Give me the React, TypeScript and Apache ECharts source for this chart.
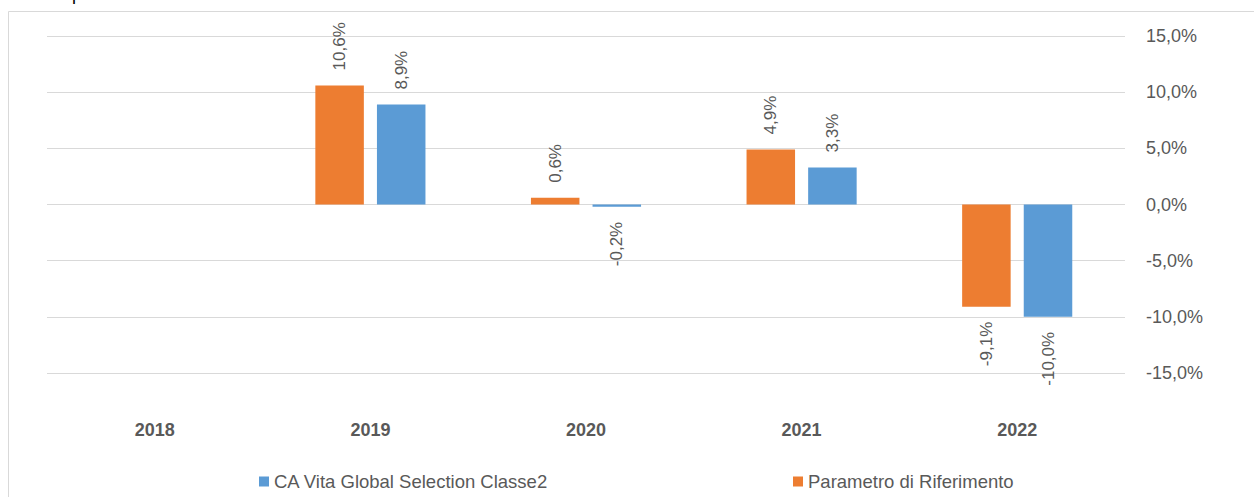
import React, { useEffect, useRef } from "react";
import * as echarts from "echarts";

const categories = ["2018", "2019", "2020", "2021", "2022"];
const benchmarkName = "Parametro di Riferimento";
const fundName = "CA Vita Global Selection Classe2";
const benchmarkValues: (number | null)[] = [null, 10.6, 0.6, 4.9, -9.1];
const fundValues: (number | null)[] = [null, 8.9, -0.2, 3.3, -10.0];
const yTicks = { min: -15, max: 15, interval: 5 };

const FONT = "Liberation Sans";
const TEXT = "#595959";

const fmt = (v: number) => v.toFixed(1).replace(".", ",") + "%";

function items(values: (number | null)[]) {
  return values.map((v) => {
    if (v === null) return { value: null };
    const neg = v < 0;
    return {
      value: v,
      label: {
        show: true,
        position: neg ? "bottom" : "top",
        rotate: 90,
        align: neg ? "right" : "left",
        verticalAlign: "middle",
        distance: 15,
        formatter: () => fmt(v),
        color: TEXT,
        fontSize: 17,
        fontFamily: FONT,
      },
    };
  });
}

export default function App() {
  const ref = useRef<HTMLDivElement>(null);
  useEffect(() => {
    if (!ref.current) return;
    const chart = echarts.init(ref.current, null, { renderer: "svg" });
    chart.setOption({
      animation: false,
      backgroundColor: "#ffffff",
      grid: { left: 47, right: 129, top: 36, bottom: 124 },
      graphic: [
        {
          type: "rect",
          silent: true,
          z: -10,
          shape: { x: 8.5, y: 11.5, width: 1300, height: 600 },
          style: { fill: "none", stroke: "#d9d9d9", lineWidth: 1 },
        },
        {
          type: "text",
          x: 72,
          y: -15,
          style: { text: "p", fontSize: 18, fontFamily: FONT, fill: "#000000", verticalAlign: "top" },
        },
      ],
      legend: [
        {
          data: [fundName],
          left: 254,
          top: 467,
          icon: "rect",
          itemWidth: 10,
          itemHeight: 10,
          textStyle: { color: TEXT, fontSize: 18.5, fontFamily: FONT },
        },
        {
          data: [benchmarkName],
          left: 788,
          top: 467,
          icon: "rect",
          itemWidth: 10,
          itemHeight: 10,
          textStyle: { color: TEXT, fontSize: 18.5, fontFamily: FONT },
        },
      ],
      xAxis: {
        type: "category",
        data: categories,
        axisLine: { show: false, onZero: false },
        axisTick: { show: false },
        axisLabel: {
          color: TEXT,
          fontWeight: "bold",
          fontSize: 18,
          fontFamily: FONT,
          margin: 48,
          verticalAlign: "top",
        },
      },
      yAxis: {
        type: "value",
        position: "right",
        min: yTicks.min,
        max: yTicks.max,
        interval: yTicks.interval,
        axisLine: { show: false },
        axisTick: { show: false },
        splitLine: { lineStyle: { color: "#d9d9d9", width: 1 } },
        axisLabel: {
          color: TEXT,
          fontSize: 18,
          fontFamily: FONT,
          margin: 21,
          formatter: (v: number) => fmt(v),
        },
      },
      series: [
        {
          name: benchmarkName,
          type: "bar",
          data: items(benchmarkValues),
          barWidth: "22.5%",
          barGap: "27%",
          itemStyle: { color: "#ED7D31" },
        },
        {
          name: fundName,
          type: "bar",
          data: items(fundValues),
          barWidth: "22.5%",
          barGap: "27%",
          itemStyle: { color: "#5B9BD5" },
        },
      ],
    });
    return () => chart.dispose();
  }, []);
  return (
    <div
      ref={ref}
      style={{ position: "absolute", left: 0, top: 0, width: 1254, height: 497 }}
    />
  );
}
